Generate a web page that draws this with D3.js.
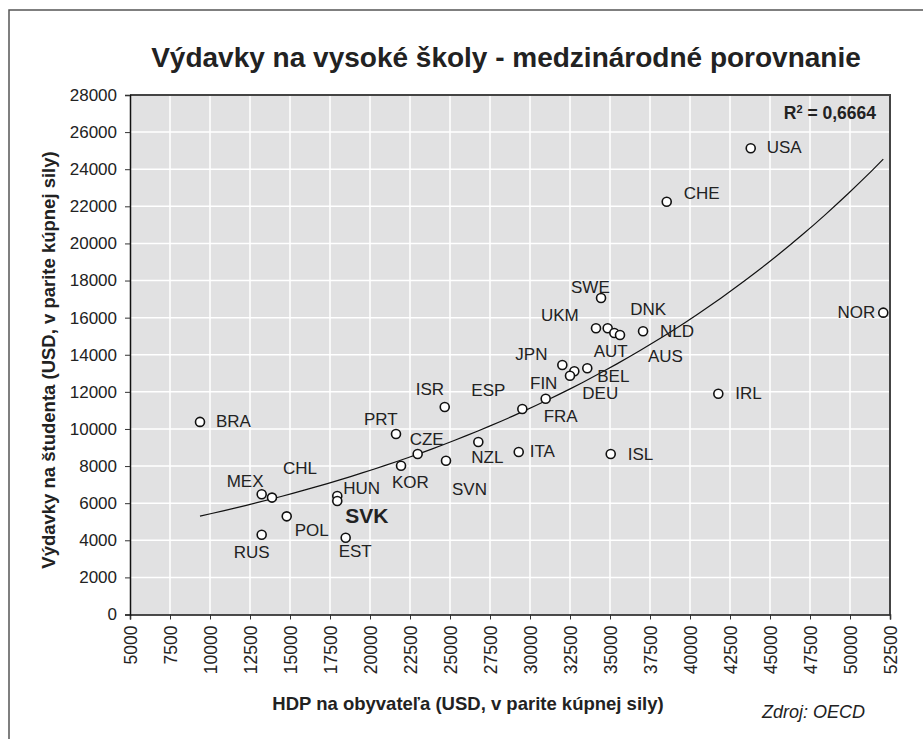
<!DOCTYPE html>
<html>
<head>
<meta charset="utf-8">
<script src="https://cdn.jsdelivr.net/npm/d3@7/dist/d3.min.js"></script>
<style>
  body { margin: 0; background: #fff; }
  svg { display: block; font-family: "Liberation Sans", Arial, sans-serif; }
</style>
</head>
<body>
<div class="canvas"></div>
<script>
const w = 923;
const h = 739;

// data
const countries = ["BRA","MEX","CHL","POL","RUS","HUN","SVK","EST","PRT","CZE","KOR","SVN","ISR","NZL","ITA","ISL",
                   "ESP","FRA","JPN","DEU","FIN","BEL","SWE","UKM","AUT","DNK","AUS","NLD","IRL","CHE","USA","NOR"];
const gdp = [9375,13230,13875,14795,13230,17955,17955,18480,21625,22980,21940,24750,24670,26770,29295,35045,
             29520,30980,32020,32770,32500,33580,34440,34125,34855,35270,35625,37065,41770,38545,43795,52080];
const spending = [10380,6480,6300,5290,4300,6390,6120,4140,9730,8650,8020,8290,11185,9300,8760,8650,
                  11075,11630,13450,13110,12870,13270,17060,15425,15425,15175,15065,15265,11900,22250,25130,16270];

const xTickValues = [5000,7500,10000,12500,15000,17500,20000,22500,25000,27500,30000,32500,35000,37500,40000,42500,45000,47500,50000,52500];
const yTickValues = [0,2000,4000,6000,8000,10000,12000,14000,16000,18000,20000,22000,24000,26000,28000];

const rSquaredText = "0,6664";

// label placement relative to the marker (px): dx, dy, anchor
const labelPos = {
  BRA:[16,0], MEX:[-35,-13], CHL:[11,-29], POL:[8,14], RUS:[-28,18], HUN:[6,-7], SVK:[8,15], EST:[-7,14],
  PRT:[-32,-14], CZE:[-8,-15], KOR:[-9,17], SVN:[6,29], ISR:[-29,-17], NZL:[-7,16], ITA:[11,0], ISL:[17,0],
  ESP:[-51,-19], FRA:[-2,18], JPN:[-47,-10], DEU:[8,22], FIN:[-40,8], BEL:[10,8], SWE:[-30,-10], UKM:[-55,-13],
  AUT:[-14,23], DNK:[16,-23], AUS:[28,22], NLD:[17,0], IRL:[17,0], CHE:[17,-8], USA:[16,-1], NOR:[-8,0,"end"]
};

const margin = {top: 95, left: 130, right: 33, bottom: 124.5};
const pw = w - margin.left - margin.right;
const ph = h - margin.top - margin.bottom;

const x = d3.scaleLinear().domain([5000, 52500]).range([margin.left, margin.left + pw]);
const y = d3.scaleLinear().domain([0, 28000]).range([margin.top + ph, margin.top]);

const svg = d3.select(".canvas")
  .append("svg")
  .attr("width", w)
  .attr("height", h);

// outer frame (only top / left visible)
svg.append("rect")
  .attr("x", 9).attr("y", 10)
  .attr("width", 940).attr("height", 760)
  .attr("fill", "none")
  .attr("stroke", "#555")
  .attr("stroke-width", 1.5);

// title
svg.append("text")
  .attr("x", 506).attr("y", 67)
  .attr("text-anchor", "middle")
  .style("font-size", "28px")
  .style("font-weight", "bold")
  .attr("fill", "#222")
  .text("Výdavky na vysoké školy - medzinárodné porovnanie");

// plot background
svg.append("rect")
  .attr("x", margin.left).attr("y", margin.top)
  .attr("width", pw).attr("height", ph)
  .attr("fill", "#e1e1e2");

// grid
svg.append("g").selectAll("line")
  .data(xTickValues.slice(1, -1))
  .enter().append("line")
  .attr("x1", d => x(d)).attr("x2", d => x(d))
  .attr("y1", margin.top).attr("y2", margin.top + ph)
  .attr("stroke", "#fff").attr("stroke-width", 1.5);

svg.append("g").selectAll("line")
  .data(yTickValues.slice(1, -1))
  .enter().append("line")
  .attr("x1", margin.left).attr("x2", margin.left + pw)
  .attr("y1", d => y(d)).attr("y2", d => y(d))
  .attr("stroke", "#fff").attr("stroke-width", 1.5);

// plot border top / right
svg.append("path")
  .attr("d", `M${margin.left},${margin.top}H${margin.left + pw}V${margin.top + ph}`)
  .attr("fill", "none")
  .attr("stroke", "#444")
  .attr("stroke-width", 2);

// axes
const xAxis = d3.axisBottom(x).tickValues(xTickValues).tickSize(5).tickFormat(d3.format("d"));
const yAxis = d3.axisLeft(y).tickValues(yTickValues).tickSize(5).tickFormat(d3.format("d"));

const gx = svg.append("g")
  .attr("transform", `translate(0,${margin.top + ph})`)
  .call(xAxis);
gx.select(".domain").attr("stroke", "#111").attr("stroke-width", 1.5);
gx.selectAll(".tick line").attr("stroke", "#333");
gx.selectAll(".tick text")
  .attr("transform", "rotate(-90)")
  .attr("x", -11).attr("y", 0).attr("dy", "0.35em")
  .style("text-anchor", "end")
  .style("font-size", "17.5px")
  .attr("fill", "#222");

const gy = svg.append("g")
  .attr("transform", `translate(${margin.left},0)`)
  .call(yAxis);
gy.select(".domain").attr("stroke", "#111").attr("stroke-width", 1.5);
gy.selectAll(".tick line").attr("stroke", "#333");
gy.selectAll(".tick text")
  .attr("x", -13)
  .style("font-size", "17px")
  .attr("fill", "#222");

// exponential trend, fitted on the points (like Excel)
const lx = gdp, ly = spending.map(v => Math.log(v));
const mx = d3.mean(lx), my = d3.mean(ly);
const b = d3.sum(lx, (v, i) => (v - mx) * (ly[i] - my)) / d3.sum(lx, v => (v - mx) * (v - mx));
const a = Math.exp(my - b * mx);
const trendX = d3.range(60).map(i => d3.min(gdp) + i * (d3.max(gdp) - d3.min(gdp)) / 59);

svg.append("path")
  .datum(trendX)
  .attr("d", d3.line().x(d => x(d)).y(d => y(a * Math.exp(b * d))))
  .attr("fill", "none")
  .attr("stroke", "#111")
  .attr("stroke-width", 1.2);

// points
const pts = countries.map((c, i) => ({name: c, gdp: gdp[i], val: spending[i]}));

svg.append("g").selectAll("circle")
  .data(pts)
  .enter().append("circle")
  .attr("cx", d => x(d.gdp))
  .attr("cy", d => y(d.val))
  .attr("r", 4.5)
  .attr("fill", "#fff")
  .attr("stroke", "#111")
  .attr("stroke-width", 1.6);

svg.append("g").selectAll("text")
  .data(pts)
  .enter().append("text")
  .attr("x", d => x(d.gdp) + labelPos[d.name][0])
  .attr("y", d => y(d.val) + labelPos[d.name][1])
  .attr("dominant-baseline", "central")
  .attr("text-anchor", d => labelPos[d.name][2] || "start")
  .style("font-size", d => d.name === "SVK" ? "21px" : "17px")
  .style("font-weight", d => d.name === "SVK" ? "bold" : "normal")
  .attr("fill", "#222")
  .text(d => d.name);

// R squared
const r2 = svg.append("text")
  .attr("x", 876).attr("y", 119)
  .attr("text-anchor", "end")
  .style("font-size", "17.5px")
  .style("font-weight", "bold")
  .attr("fill", "#222");
r2.append("tspan").text("R");
r2.append("tspan").attr("dy", -6).style("font-size", "11px").text("2");
r2.append("tspan").attr("dy", 6).text(" = " + rSquaredText);

// axis titles
svg.append("text")
  .attr("transform", "translate(55,360) rotate(-90)")
  .attr("text-anchor", "middle")
  .style("font-size", "18.5px")
  .style("font-weight", "bold")
  .attr("fill", "#222")
  .text("Výdavky na študenta (USD, v parite kúpnej sily)");

svg.append("text")
  .attr("x", 468).attr("y", 710)
  .attr("text-anchor", "middle")
  .style("font-size", "18.5px")
  .style("font-weight", "bold")
  .attr("fill", "#222")
  .text("HDP na obyvateľa (USD, v parite kúpnej sily)");

svg.append("text")
  .attr("x", 865).attr("y", 718)
  .attr("text-anchor", "end")
  .style("font-size", "18px")
  .style("font-style", "italic")
  .attr("fill", "#222")
  .text("Zdroj: OECD");
</script>
</body>
</html>
